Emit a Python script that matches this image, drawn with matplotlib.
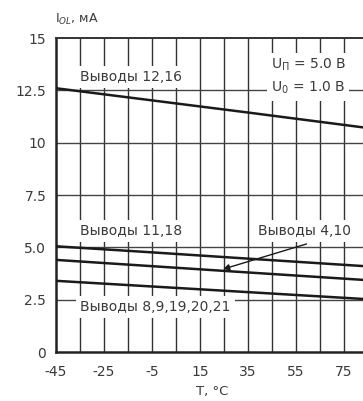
import matplotlib.pyplot as plt

# Output current (low level) vs temperature for several output groups
temp = [-45, -5, 35, 85]
i_12_16 = [12.6, 12.02, 11.44, 10.7]
i_11_18 = [5.05, 4.76, 4.46, 4.09]
i_4_10 = [4.4, 4.1, 3.8, 3.43]
i_8_21 = [3.4, 3.13, 2.86, 2.52]

x_ticks = [-45, -25, -5, 15, 35, 55, 75]
x_grid = list(range(-35, 90, 10))
y_ticks = [0, 2.5, 5.0, 7.5, 10, 12.5, 15]
y_labels = ['0', '2.5', '5.0', '7.5', '10', '12.5', '15']

plt.rcParams['font.family'] = 'DejaVu Sans'
plt.rcParams['mathtext.fontset'] = 'dejavusans'
plt.rcParams['axes.unicode_minus'] = False

fig = plt.figure(figsize=(3.63, 4.01), dpi=100)
ax = fig.add_axes([56 / 363, 49 / 401, 312 / 363, 314 / 401])

ax.set_xlim(-45, 85)
ax.set_ylim(0, 15)

# grid drawn by hand so both directions use the same pen
for x in x_grid:
    ax.axvline(x, color='#333333', lw=1.0, zorder=1)
for y in y_ticks[1:-1]:
    ax.axhline(y, color='#444444', lw=1.0, zorder=1)

box = dict(facecolor='white', edgecolor='none', pad=3)
txt = dict(fontsize=10, color='#3a3a3a', zorder=3)

ax.text(-35, 13.15, 'Выводы 12,16', va='center', bbox=box, **txt)
ax.text(44.5, 13.7, 'U$_{\\mathrm{П}}$ = 5.0 В', va='center', bbox=box, **txt)
ax.text(44.5, 12.6, 'U$_0$ = 1.0 В', va='center', bbox=box, **txt)
ax.text(-35, 5.78, 'Выводы 11,18', va='center', bbox=box, **txt)
ax.text(-35, 2.15, 'Выводы 8,9,19,20,21', va='center', bbox=box, **txt)
ax.text(58.5, 5.78, 'Выводы 4,10', ha='center', va='center', bbox=box, **txt)

for vals in (i_12_16, i_11_18, i_4_10, i_8_21):
    ax.plot(temp, vals, color='#1a1a1a', lw=1.8, zorder=4)

ax.annotate('', xy=(23.5, 3.92), xytext=(60.5, 5.2),
            arrowprops=dict(arrowstyle='-|>', color='#1a1a1a', lw=1.0,
                            mutation_scale=9), zorder=5)

ax.set_xticks(x_ticks)
ax.set_yticks(y_ticks)
ax.set_yticklabels(y_labels)
ax.tick_params(axis='y', length=0, labelsize=10, labelcolor='#3a3a3a', pad=7)
ax.tick_params(axis='x', length=0, labelsize=10, labelcolor='#3a3a3a', pad=9)
for s in ('left', 'bottom'):
    ax.spines[s].set_linewidth(1.8)
    ax.spines[s].set_color('#222222')
ax.spines['top'].set_linewidth(1.4)
ax.spines['top'].set_color('#333333')
ax.spines['right'].set_visible(False)

fig.text(55 / 363, 1 - 19 / 401, 'I$_{OL}$, мА', fontsize=9, color='#3a3a3a',
         va='center')
fig.text(212 / 363, 1 - 391 / 401, 'T, °C', fontsize=9.5, color='#3a3a3a',
         ha='center', va='center')

fig.savefig('out.png', dpi=100)
